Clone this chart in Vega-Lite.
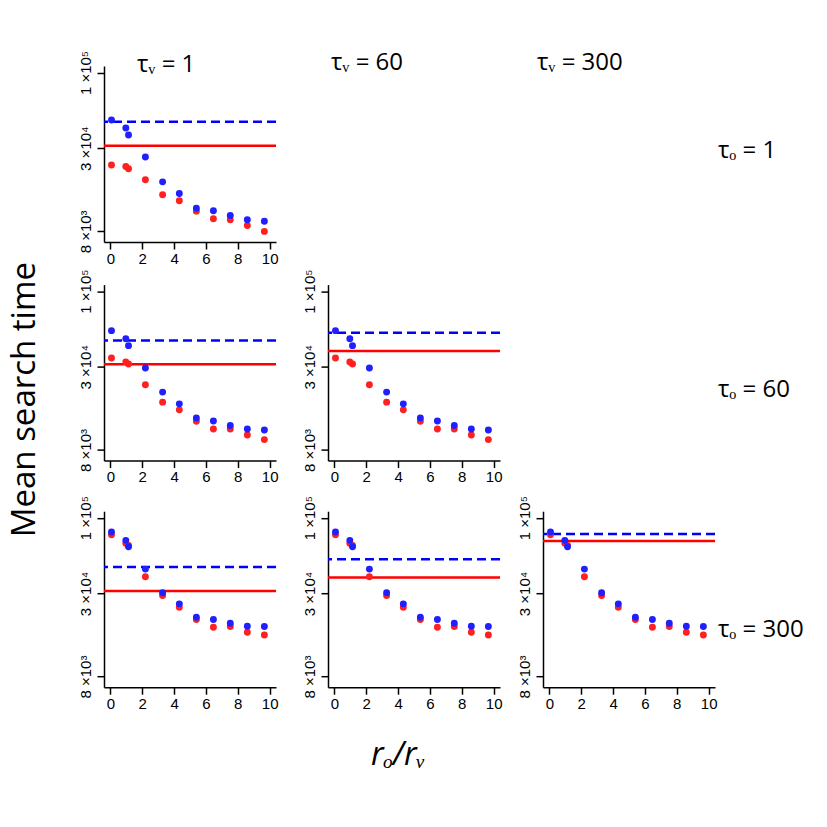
{
  "$schema": "https://vega.github.io/schema/vega-lite/v6.json",
  "background": "white",
  "padding": {"left": 8, "top": 50, "right": 5, "bottom": 5},
  "config": {
    "view": {"stroke": null},
    "font": "Open Sans",
    "title": {"font": "Open Sans", "fontWeight": "normal", "color": "black"},
    "axis": {"domainColor": "black", "domainWidth": 1.5, "tickColor": "black", "tickWidth": 1.5, "tickSize": 7, "labelColor": "black", "labelFont": "Liberation Sans", "labelFontSize": 15, "grid": false, "labelFlush": false, "labelOverlap": false, "title": null},
    "axisX": {"labelPadding": 2},
    "axisY": {"labelAngle": -90, "labelAlign": "center", "labelBaseline": "bottom", "labelPadding": 4}
  },
  "datasets": {
    "pts": [
      {"o": 1, "s": "blue", "x": 0.07, "t": 46970}, {"o": 1, "s": "blue", "x": 0.97, "t": 41400}, {"o": 1, "s": "blue", "x": 1.14, "t": 37060}, {"o": 1, "s": "blue", "x": 2.2, "t": 26130}, {"o": 1, "s": "blue", "x": 3.28, "t": 17580}, {"o": 1, "s": "blue", "x": 4.33, "t": 14620}, {"o": 1, "s": "blue", "x": 5.4, "t": 11570}, {"o": 1, "s": "blue", "x": 6.47, "t": 11100}, {"o": 1, "s": "blue", "x": 7.53, "t": 10310}, {"o": 1, "s": "blue", "x": 8.6, "t": 9620}, {"o": 1, "s": "blue", "x": 9.67, "t": 9410},
      {"o": 1, "s": "red", "x": 0.07, "t": 23020}, {"o": 1, "s": "red", "x": 0.97, "t": 22420}, {"o": 1, "s": "red", "x": 1.14, "t": 21630}, {"o": 1, "s": "red", "x": 2.2, "t": 18170}, {"o": 1, "s": "red", "x": 3.28, "t": 14330}, {"o": 1, "s": "red", "x": 4.33, "t": 13010}, {"o": 1, "s": "red", "x": 5.4, "t": 11040}, {"o": 1, "s": "red", "x": 6.47, "t": 9770}, {"o": 1, "s": "red", "x": 7.53, "t": 9620}, {"o": 1, "s": "red", "x": 8.6, "t": 8790}, {"o": 1, "s": "red", "x": 9.67, "t": 8000},
      {"o": 60, "s": "blue", "x": 0.07, "t": 53340}, {"o": 60, "s": "blue", "x": 0.97, "t": 46960}, {"o": 60, "s": "blue", "x": 1.14, "t": 42020}, {"o": 60, "s": "blue", "x": 2.2, "t": 29420}, {"o": 60, "s": "blue", "x": 3.28, "t": 20080}, {"o": 60, "s": "blue", "x": 4.33, "t": 16660}, {"o": 60, "s": "blue", "x": 5.4, "t": 13320}, {"o": 60, "s": "blue", "x": 6.47, "t": 12700}, {"o": 60, "s": "blue", "x": 7.53, "t": 11800}, {"o": 60, "s": "blue", "x": 8.6, "t": 11180}, {"o": 60, "s": "blue", "x": 9.67, "t": 11010},
      {"o": 60, "s": "red", "x": 0.07, "t": 34530}, {"o": 60, "s": "red", "x": 0.97, "t": 32390}, {"o": 60, "s": "red", "x": 1.14, "t": 31370}, {"o": 60, "s": "red", "x": 2.2, "t": 22550}, {"o": 60, "s": "red", "x": 3.28, "t": 17120}, {"o": 60, "s": "red", "x": 4.33, "t": 15140}, {"o": 60, "s": "red", "x": 5.4, "t": 12640}, {"o": 60, "s": "red", "x": 6.47, "t": 11180}, {"o": 60, "s": "red", "x": 7.53, "t": 11180}, {"o": 60, "s": "red", "x": 8.6, "t": 10160}, {"o": 60, "s": "red", "x": 9.67, "t": 9440},
      {"o": 300, "s": "blue", "x": 0.07, "t": 79650}, {"o": 300, "s": "blue", "x": 0.97, "t": 69780}, {"o": 300, "s": "blue", "x": 1.14, "t": 62990}, {"o": 300, "s": "blue", "x": 2.2, "t": 44170}, {"o": 300, "s": "blue", "x": 3.28, "t": 30300}, {"o": 300, "s": "blue", "x": 4.33, "t": 25430}, {"o": 300, "s": "blue", "x": 5.4, "t": 20570}, {"o": 300, "s": "blue", "x": 6.47, "t": 19830}, {"o": 300, "s": "blue", "x": 7.53, "t": 18700}, {"o": 300, "s": "blue", "x": 8.6, "t": 17830}, {"o": 300, "s": "blue", "x": 9.67, "t": 17740},
      {"o": 300, "s": "red", "x": 0.07, "t": 76290}, {"o": 300, "s": "red", "x": 0.97, "t": 66530}, {"o": 300, "s": "red", "x": 1.14, "t": 64440}, {"o": 300, "s": "red", "x": 2.2, "t": 39080}, {"o": 300, "s": "red", "x": 3.28, "t": 29060}, {"o": 300, "s": "red", "x": 4.33, "t": 24120}, {"o": 300, "s": "red", "x": 5.4, "t": 19830}, {"o": 300, "s": "red", "x": 6.47, "t": 17540}, {"o": 300, "s": "red", "x": 7.53, "t": 17740}, {"o": 300, "s": "red", "x": 8.6, "t": 16200}, {"o": 300, "s": "red", "x": 9.67, "t": 15520}
    ],
    "lines": [
      {"v": 1, "s": "blue", "t": 45650}, {"v": 1, "s": "red", "t": 31250},
      {"v": 60, "s": "blue", "t": 51600}, {"v": 60, "s": "red", "t": 38650},
      {"v": 300, "s": "blue", "t": 77150}, {"v": 300, "s": "red", "t": 69000}
    ]
  },
  "title": {"text": "rₒ/rᵥ", "orient": "bottom", "fontSize": 32, "fontStyle": "italic", "anchor": "middle", "dx": -8, "offset": 9},
  "vconcat": [
    {
      "title": {"text": "Mean search time", "orient": "left", "fontSize": 33, "anchor": "middle", "dx": -9, "offset": 36},
      "columns": 4,
      "align": "each",
      "bounds": "flush",
      "spacing": {"row": 42.6, "column": 43},
      "concat": [
        {
          "width": 172, "height": 176,
          "title": {"text": "τᵥ = 1", "fontSize": 24, "anchor": "start", "frame": "group", "dx": 33, "offset": -46, "baseline": "alphabetic"},
          "layer": [
            {"data": {"name": "lines"}, "transform": [{"filter": "datum.v == 1 && datum.s == 'red'"}], "mark": {"type": "rule", "color": "#ff0000", "strokeWidth": 2.5}, "encoding": {"y": {"field": "t", "type": "quantitative", "scale": {"type": "log", "domain": [6760, 110900], "nice": false}, "axis": {"values": [8000, 30000, 100000], "labelExpr": "datum.value == 100000 ? '1 ×10⁵' : datum.value == 30000 ? '3 ×10⁴' : '8 ×10³'"}}}},
            {"data": {"name": "lines"}, "transform": [{"filter": "datum.v == 1 && datum.s == 'blue'"}], "mark": {"type": "rule", "color": "#0000ff", "strokeWidth": 2.5, "strokeDash": [9, 5]}, "encoding": {"y": {"field": "t", "type": "quantitative"}}},
            {"data": {"name": "pts"}, "transform": [{"filter": "datum.o == 1 && datum.s == 'red'"}], "mark": {"type": "circle", "color": "#ff2020", "size": 48, "opacity": 1}, "encoding": {"x": {"field": "x", "type": "quantitative", "scale": {"domain": [-0.4, 10.4], "nice": false, "zero": false}, "axis": {"values": [0, 2, 4, 6, 8, 10]}}, "y": {"field": "t", "type": "quantitative"}}},
            {"data": {"name": "pts"}, "transform": [{"filter": "datum.o == 1 && datum.s == 'blue'"}], "mark": {"type": "circle", "color": "#2020ff", "size": 48, "opacity": 1}, "encoding": {"x": {"field": "x", "type": "quantitative", "axis": {"values": [0, 2, 4, 6, 8, 10]}}, "y": {"field": "t", "type": "quantitative"}}}
          ]
        },
        {"width": 172, "height": 176, "data": {"values": []}, "mark": "point", "encoding": {},
         "title": {"text": "τᵥ = 60", "fontSize": 24, "anchor": "start", "frame": "group", "dx": 3, "offset": -28, "baseline": "alphabetic"}},
        {"width": 172, "height": 176, "data": {"values": []}, "mark": "point", "encoding": {},
         "title": {"text": "τᵥ = 300", "fontSize": 24, "anchor": "start", "frame": "group", "dx": -6, "offset": -28, "baseline": "alphabetic"}},
        {"width": 20, "height": 176, "data": {"values": []}, "mark": "point", "encoding": {},
         "title": {"text": "τₒ = 1", "fontSize": 24, "anchor": "start", "frame": "group", "dx": -40, "offset": -115.6, "baseline": "alphabetic"}},
        {
          "width": 172, "height": 176,
          "layer": [
            {"data": {"name": "lines"}, "transform": [{"filter": "datum.v == 1 && datum.s == 'red'"}], "mark": {"type": "rule", "color": "#ff0000", "strokeWidth": 2.5}, "encoding": {"y": {"field": "t", "type": "quantitative", "scale": {"type": "log", "domain": [6760, 110900], "nice": false}, "axis": {"values": [8000, 30000, 100000], "labelExpr": "datum.value == 100000 ? '1 ×10⁵' : datum.value == 30000 ? '3 ×10⁴' : '8 ×10³'"}}}},
            {"data": {"name": "lines"}, "transform": [{"filter": "datum.v == 1 && datum.s == 'blue'"}], "mark": {"type": "rule", "color": "#0000ff", "strokeWidth": 2.5, "strokeDash": [9, 5]}, "encoding": {"y": {"field": "t", "type": "quantitative"}}},
            {"data": {"name": "pts"}, "transform": [{"filter": "datum.o == 60 && datum.s == 'red'"}], "mark": {"type": "circle", "color": "#ff2020", "size": 48, "opacity": 1}, "encoding": {"x": {"field": "x", "type": "quantitative", "scale": {"domain": [-0.4, 10.4], "nice": false, "zero": false}, "axis": {"values": [0, 2, 4, 6, 8, 10]}}, "y": {"field": "t", "type": "quantitative"}}},
            {"data": {"name": "pts"}, "transform": [{"filter": "datum.o == 60 && datum.s == 'blue'"}], "mark": {"type": "circle", "color": "#2020ff", "size": 48, "opacity": 1}, "encoding": {"x": {"field": "x", "type": "quantitative", "axis": {"values": [0, 2, 4, 6, 8, 10]}}, "y": {"field": "t", "type": "quantitative"}}}
          ]
        },
        {
          "width": 172, "height": 176,
          "layer": [
            {"data": {"name": "lines"}, "transform": [{"filter": "datum.v == 60 && datum.s == 'red'"}], "mark": {"type": "rule", "color": "#ff0000", "strokeWidth": 2.5}, "encoding": {"y": {"field": "t", "type": "quantitative", "scale": {"type": "log", "domain": [6760, 110900], "nice": false}, "axis": {"values": [8000, 30000, 100000], "labelExpr": "datum.value == 100000 ? '1 ×10⁵' : datum.value == 30000 ? '3 ×10⁴' : '8 ×10³'"}}}},
            {"data": {"name": "lines"}, "transform": [{"filter": "datum.v == 60 && datum.s == 'blue'"}], "mark": {"type": "rule", "color": "#0000ff", "strokeWidth": 2.5, "strokeDash": [9, 5]}, "encoding": {"y": {"field": "t", "type": "quantitative"}}},
            {"data": {"name": "pts"}, "transform": [{"filter": "datum.o == 60 && datum.s == 'red'"}], "mark": {"type": "circle", "color": "#ff2020", "size": 48, "opacity": 1}, "encoding": {"x": {"field": "x", "type": "quantitative", "scale": {"domain": [-0.4, 10.4], "nice": false, "zero": false}, "axis": {"values": [0, 2, 4, 6, 8, 10]}}, "y": {"field": "t", "type": "quantitative"}}},
            {"data": {"name": "pts"}, "transform": [{"filter": "datum.o == 60 && datum.s == 'blue'"}], "mark": {"type": "circle", "color": "#2020ff", "size": 48, "opacity": 1}, "encoding": {"x": {"field": "x", "type": "quantitative", "axis": {"values": [0, 2, 4, 6, 8, 10]}}, "y": {"field": "t", "type": "quantitative"}}}
          ]
        },
        {"width": 172, "height": 183.8, "data": {"values": []}, "mark": "point", "encoding": {}},
        {"width": 20, "height": 176, "data": {"values": []}, "mark": "point", "encoding": {},
         "title": {"text": "τₒ = 60", "fontSize": 24, "anchor": "start", "frame": "group", "dx": -40, "offset": -136.2, "baseline": "alphabetic"}},
        {
          "width": 172, "height": 176,
          "layer": [
            {"data": {"name": "lines"}, "transform": [{"filter": "datum.v == 1 && datum.s == 'red'"}], "mark": {"type": "rule", "color": "#ff0000", "strokeWidth": 2.5}, "encoding": {"y": {"field": "t", "type": "quantitative", "scale": {"type": "log", "domain": [6760, 110900], "nice": false}, "axis": {"values": [8000, 30000, 100000], "labelExpr": "datum.value == 100000 ? '1 ×10⁵' : datum.value == 30000 ? '3 ×10⁴' : '8 ×10³'"}}}},
            {"data": {"name": "lines"}, "transform": [{"filter": "datum.v == 1 && datum.s == 'blue'"}], "mark": {"type": "rule", "color": "#0000ff", "strokeWidth": 2.5, "strokeDash": [9, 5]}, "encoding": {"y": {"field": "t", "type": "quantitative"}}},
            {"data": {"name": "pts"}, "transform": [{"filter": "datum.o == 300 && datum.s == 'red'"}], "mark": {"type": "circle", "color": "#ff2020", "size": 48, "opacity": 1}, "encoding": {"x": {"field": "x", "type": "quantitative", "scale": {"domain": [-0.4, 10.4], "nice": false, "zero": false}, "axis": {"values": [0, 2, 4, 6, 8, 10]}}, "y": {"field": "t", "type": "quantitative"}}},
            {"data": {"name": "pts"}, "transform": [{"filter": "datum.o == 300 && datum.s == 'blue'"}], "mark": {"type": "circle", "color": "#2020ff", "size": 48, "opacity": 1}, "encoding": {"x": {"field": "x", "type": "quantitative", "axis": {"values": [0, 2, 4, 6, 8, 10]}}, "y": {"field": "t", "type": "quantitative"}}}
          ]
        },
        {
          "width": 172, "height": 176,
          "layer": [
            {"data": {"name": "lines"}, "transform": [{"filter": "datum.v == 60 && datum.s == 'red'"}], "mark": {"type": "rule", "color": "#ff0000", "strokeWidth": 2.5}, "encoding": {"y": {"field": "t", "type": "quantitative", "scale": {"type": "log", "domain": [6760, 110900], "nice": false}, "axis": {"values": [8000, 30000, 100000], "labelExpr": "datum.value == 100000 ? '1 ×10⁵' : datum.value == 30000 ? '3 ×10⁴' : '8 ×10³'"}}}},
            {"data": {"name": "lines"}, "transform": [{"filter": "datum.v == 60 && datum.s == 'blue'"}], "mark": {"type": "rule", "color": "#0000ff", "strokeWidth": 2.5, "strokeDash": [9, 5]}, "encoding": {"y": {"field": "t", "type": "quantitative"}}},
            {"data": {"name": "pts"}, "transform": [{"filter": "datum.o == 300 && datum.s == 'red'"}], "mark": {"type": "circle", "color": "#ff2020", "size": 48, "opacity": 1}, "encoding": {"x": {"field": "x", "type": "quantitative", "scale": {"domain": [-0.4, 10.4], "nice": false, "zero": false}, "axis": {"values": [0, 2, 4, 6, 8, 10]}}, "y": {"field": "t", "type": "quantitative"}}},
            {"data": {"name": "pts"}, "transform": [{"filter": "datum.o == 300 && datum.s == 'blue'"}], "mark": {"type": "circle", "color": "#2020ff", "size": 48, "opacity": 1}, "encoding": {"x": {"field": "x", "type": "quantitative", "axis": {"values": [0, 2, 4, 6, 8, 10]}}, "y": {"field": "t", "type": "quantitative"}}}
          ]
        },
        {
          "width": 172, "height": 176,
          "layer": [
            {"data": {"name": "lines"}, "transform": [{"filter": "datum.v == 300 && datum.s == 'red'"}], "mark": {"type": "rule", "color": "#ff0000", "strokeWidth": 2.5}, "encoding": {"y": {"field": "t", "type": "quantitative", "scale": {"type": "log", "domain": [6760, 110900], "nice": false}, "axis": {"values": [8000, 30000, 100000], "labelExpr": "datum.value == 100000 ? '1 ×10⁵' : datum.value == 30000 ? '3 ×10⁴' : '8 ×10³'"}}}},
            {"data": {"name": "lines"}, "transform": [{"filter": "datum.v == 300 && datum.s == 'blue'"}], "mark": {"type": "rule", "color": "#0000ff", "strokeWidth": 2.5, "strokeDash": [9, 5]}, "encoding": {"y": {"field": "t", "type": "quantitative"}}},
            {"data": {"name": "pts"}, "transform": [{"filter": "datum.o == 300 && datum.s == 'red'"}], "mark": {"type": "circle", "color": "#ff2020", "size": 48, "opacity": 1}, "encoding": {"x": {"field": "x", "type": "quantitative", "scale": {"domain": [-0.4, 10.4], "nice": false, "zero": false}, "axis": {"values": [0, 2, 4, 6, 8, 10]}}, "y": {"field": "t", "type": "quantitative"}}},
            {"data": {"name": "pts"}, "transform": [{"filter": "datum.o == 300 && datum.s == 'blue'"}], "mark": {"type": "circle", "color": "#2020ff", "size": 48, "opacity": 1}, "encoding": {"x": {"field": "x", "type": "quantitative", "axis": {"values": [0, 2, 4, 6, 8, 10]}}, "y": {"field": "t", "type": "quantitative"}}}
          ]
        },
        {"width": 20, "height": 176, "data": {"values": []}, "mark": "point", "encoding": {},
         "title": {"text": "τₒ = 300", "fontSize": 24, "anchor": "start", "frame": "group", "dx": -40, "offset": -149.7, "baseline": "alphabetic"}},
        {"width": 180.4, "height": 1, "data": {"values": []}, "mark": "point", "encoding": {}}
      ]
    }
  ]
}
